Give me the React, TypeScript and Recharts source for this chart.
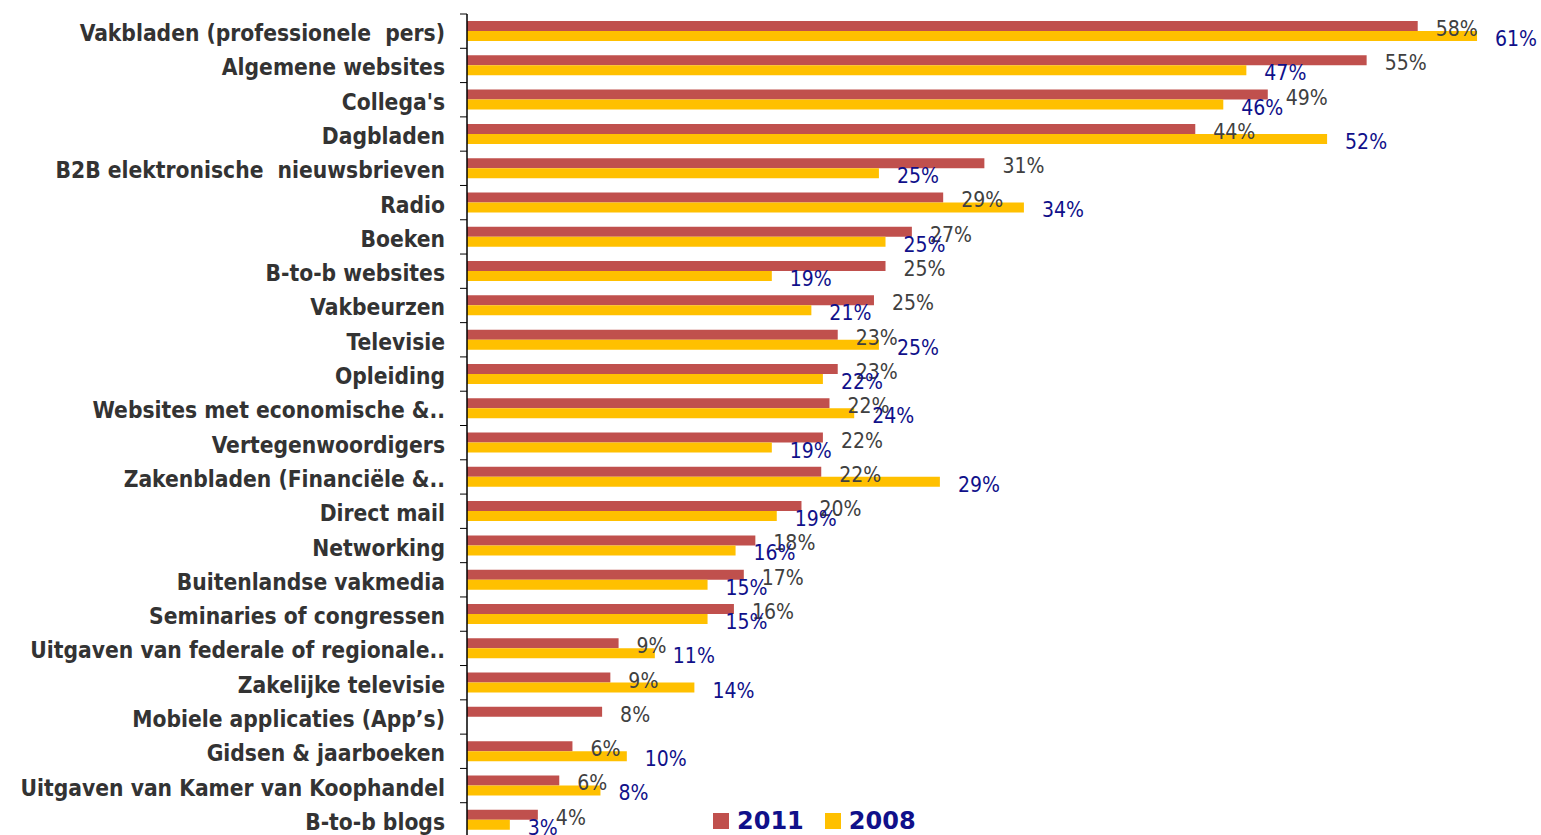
import React from "react";
import { BarChart, Bar, XAxis, YAxis, LabelList } from "recharts";

const categories = [
  "Vakbladen (professionele  pers)",
  "Algemene websites",
  "Collega's",
  "Dagbladen",
  "B2B elektronische  nieuwsbrieven",
  "Radio",
  "Boeken",
  "B-to-b websites",
  "Vakbeurzen",
  "Televisie",
  "Opleiding",
  "Websites met economische &..",
  "Vertegenwoordigers",
  "Zakenbladen (Financiële &..",
  "Direct mail",
  "Networking",
  "Buitenlandse vakmedia",
  "Seminaries of congressen",
  "Uitgaven van federale of regionale..",
  "Zakelijke televisie",
  "Mobiele applicaties (App’s)",
  "Gidsen & jaarboeken",
  "Uitgaven van Kamer van Koophandel",
  "B-to-b blogs",
];

const values2011 = [
  57.7, 54.6, 48.6, 44.2, 31.4, 28.9, 27.0, 25.4, 24.7, 22.5, 22.5, 22.0,
  21.6, 21.5, 20.3, 17.5, 16.8, 16.2, 9.2, 8.7, 8.2, 6.4, 5.6, 4.3,
];

const values2008 = [
  61.3, 47.3, 45.9, 52.2, 25.0, 33.8, 25.4, 18.5, 20.9, 25.0, 21.6, 23.5,
  18.5, 28.7, 18.8, 16.3, 14.6, 14.6, 11.4, 13.8, null, 9.7, 8.1, 2.6,
];

const seriesNames = ["2011", "2008"];

const data = categories.map((name, i) => ({
  name,
  y2011: values2011[i],
  y2008: values2008[i],
}));

const WIDTH = 1541;
const HEIGHT = 845;
const MARGIN = { top: 14, right: 3, left: 0, bottom: 8 };
const AXIS_X = 467;
const BAND = (HEIGHT - MARGIN.top - MARGIN.bottom) / categories.length;

const RED = "#C0504D";
const YELLOW = "#FFC000";
const NAVY = "#10108A";
const GRAY = "#404040";
const FONT = "'DejaVu Sans Condensed', 'DejaVu Sans', sans-serif";

const CategoryTick = (props: any) => {
  const { y, payload, index } = props;
  const top = y - BAND / 2;
  return (
    <g>
      <line x1={AXIS_X - 7} x2={AXIS_X} y1={top} y2={top} stroke="#000" />
      {index === categories.length - 1 && (
        <line x1={AXIS_X - 7} x2={AXIS_X} y1={top + BAND} y2={top + BAND} stroke="#000" />
      )}
      <text
        x={445}
        y={y + 2}
        textAnchor="end"
        dominantBaseline="central"
        fontFamily={FONT}
        fontWeight="bold"
        fontSize={22.6}
        fill="#333333"
        style={{ whiteSpace: "pre" }}
      >
        {payload.value}
      </text>
    </g>
  );
};

const makeLabel = (color: string) => (props: any) => {
  const { x, y, width, height, value } = props;
  if (value === null || value === undefined) return null;
  return (
    <text
      x={x + width + 18}
      y={y + height / 2 + 3}
      dominantBaseline="central"
      fontFamily={FONT}
      fontSize={21}
      fill={color}
    >
      {Math.round(value)}%
    </text>
  );
};

export default function App() {
  return (
    <div
      style={{
        position: "absolute",
        left: 0,
        top: 0,
        width: WIDTH,
        height: 835,
        overflow: "hidden",
        background: "#fff",
      }}
    >
      <BarChart
        width={WIDTH}
        height={HEIGHT}
        data={data}
        layout="vertical"
        margin={MARGIN}
        barGap={0}
      >
        <XAxis type="number" hide domain={[0, 65]} />
        <YAxis
          type="category"
          dataKey="name"
          width={AXIS_X}
          interval={0}
          tickLine={false}
          axisLine={{ stroke: "#000", strokeWidth: 1.5 }}
          tick={<CategoryTick />}
        />
        <Bar dataKey="y2011" name={seriesNames[0]} fill={RED} barSize={10} isAnimationActive={false}>
          <LabelList dataKey="y2011" content={makeLabel(GRAY)} />
        </Bar>
        <Bar dataKey="y2008" name={seriesNames[1]} fill={YELLOW} barSize={10} isAnimationActive={false}>
          <LabelList dataKey="y2008" content={makeLabel(NAVY)} />
        </Bar>
      </BarChart>
      <div
        style={{
          position: "absolute",
          left: 713,
          top: 806,
          display: "flex",
          alignItems: "center",
          fontFamily: "'DejaVu Sans', sans-serif",
          fontWeight: "bold",
          fontSize: 24,
          color: NAVY,
          lineHeight: "30px",
        }}
      >
        <span style={{ width: 16, height: 16, background: RED, marginRight: 8 }} />
        <span style={{ marginRight: 21 }}>{seriesNames[0]}</span>
        <span style={{ width: 16, height: 16, background: YELLOW, marginRight: 8 }} />
        <span>{seriesNames[1]}</span>
      </div>
    </div>
  );
}
